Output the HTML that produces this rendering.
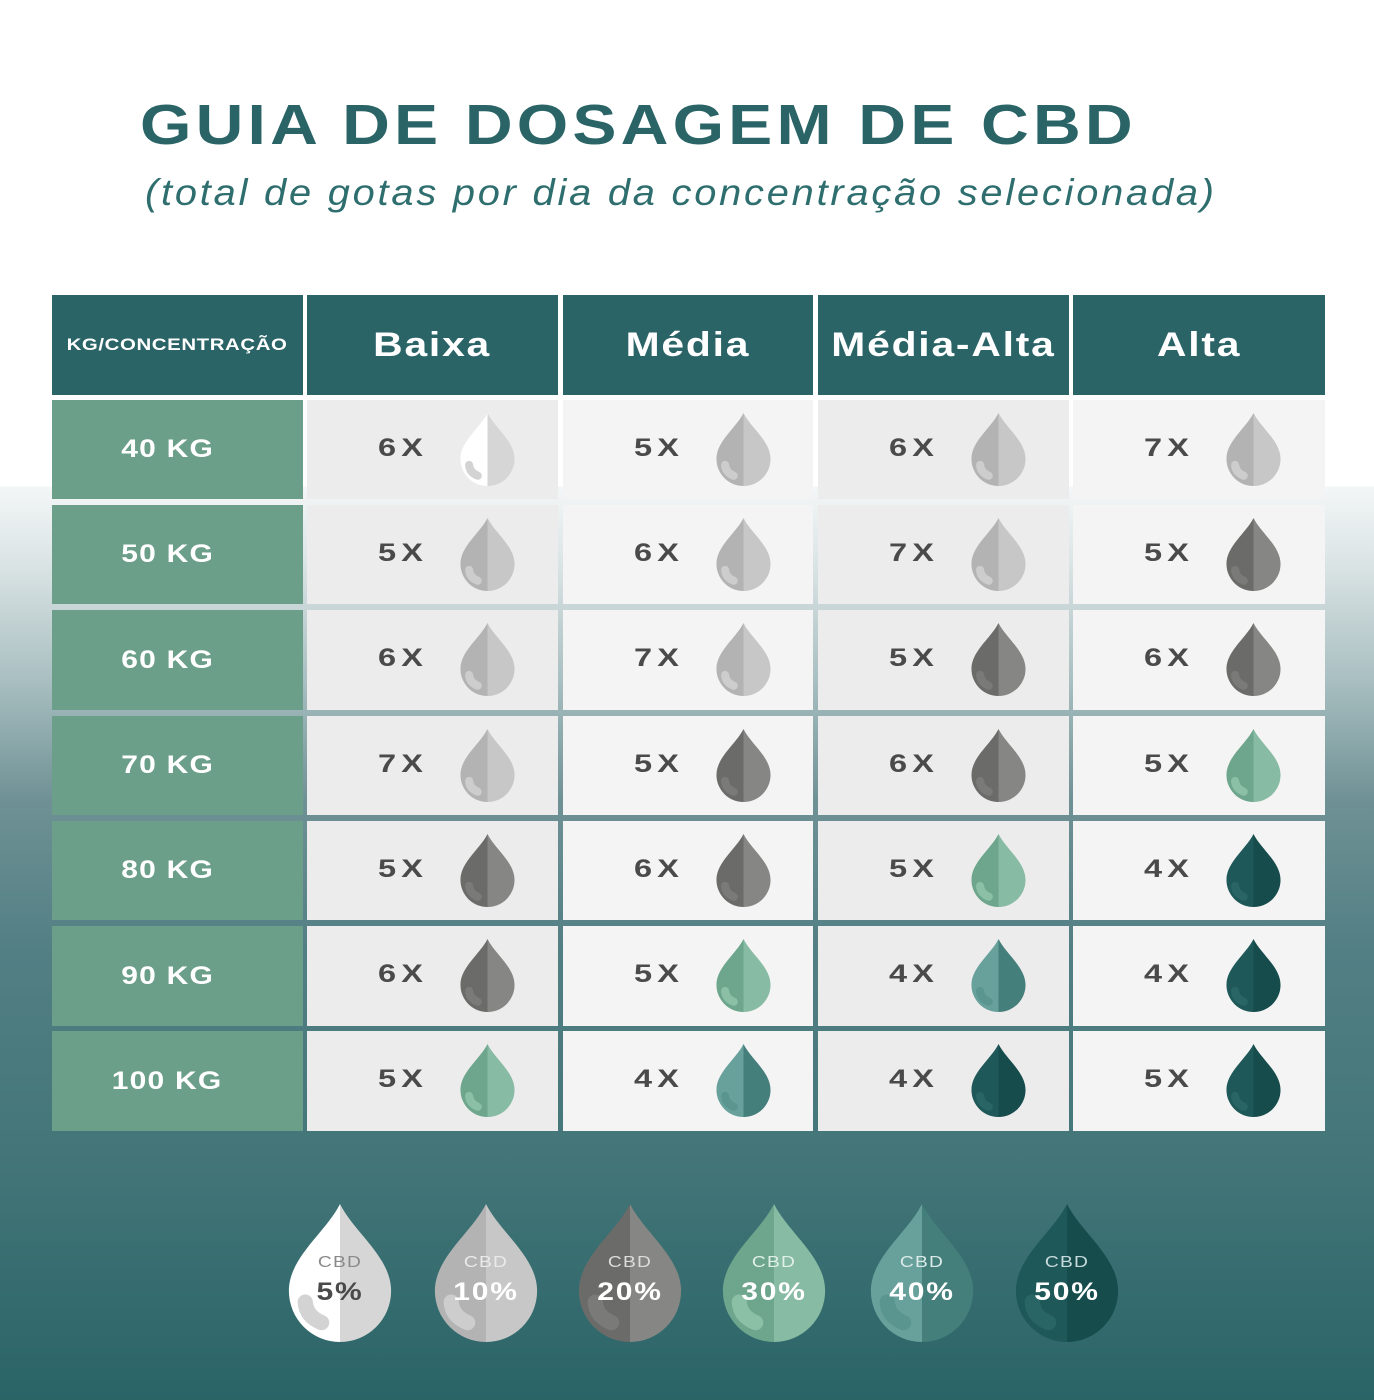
<!DOCTYPE html>
<html><head><meta charset="utf-8">
<style>
html,body{margin:0;padding:0}
body{width:1374px;height:1400px;position:relative;overflow:hidden;font-family:"Liberation Sans",sans-serif;
background:linear-gradient(to bottom,#fff 0,#fff 486px,#f3f6f6 487px,#dce5e6 560px,#a9bfc1 680px,#6f9195 800px,#527f84 950px,#447679 1150px,#2a6467 1400px);}
.title{position:absolute;left:140px;top:92px;font-size:57px;font-weight:bold;color:#2a6467;letter-spacing:3.6px;white-space:nowrap;transform:scaleX(1.16);transform-origin:0 0}
.sub{position:absolute;left:145px;top:172px;font-size:37px;font-style:italic;color:#2f6e6e;letter-spacing:2.6px;white-space:nowrap;transform:scaleX(1.075);transform-origin:0 0}
.c{position:absolute;box-sizing:border-box}
.h{background:#2a6467;color:#fff;font-weight:bold;font-size:34px;letter-spacing:1.5px;display:flex;align-items:center;justify-content:center}
.h span,.lab span{display:inline-block;transform:scaleX(1.2)}
.lab{background:#6c9f8a;color:#fff;font-weight:bold;font-size:25px;letter-spacing:1px;display:flex;align-items:center;justify-content:center;padding-right:20px}
.n{position:absolute;font-weight:bold;font-size:25px;color:#4a4a4a;letter-spacing:4px;top:34px;transform:scaleX(1.3);transform-origin:0 0}
.d{position:absolute}
.lg{position:absolute;top:1204px;width:104px;height:138px}
.lg .t1{position:absolute;top:50px;width:100%;text-align:center;font-size:16px;letter-spacing:1px;transform:scaleX(1.2)}
.lg .t2{position:absolute;top:74px;width:100%;text-align:center;font-size:25px;font-weight:bold;letter-spacing:1.5px;transform:scaleX(1.2)}
</style></head><body>
<div class="title">GUIA DE DOSAGEM DE CBD</div>
<div class="sub">(total de gotas por dia da concentração selecionada)</div>
<div id="t"></div>
<script>
var C={5:['#ffffff','#d6d6d6','#d3d3d3'],10:['#b3b3b3','#c7c7c7','#cdcdcd'],20:['#6b6b69','#868684','#7a7a78'],30:['#6da68c','#88bba3','#8bbfa6'],40:['#68a19c','#447f7b','#5a9590'],50:['#1e5859','#174c4d','#2a6566']};
function drop(p,w,h){var c=C[p];return '<svg width="'+w+'" height="'+h+'" viewBox="0 0 100 135"><path d="M50 0 C36 28 0 52 0 85 A50 50 0 0 0 50 135 L50 0Z" fill="'+c[0]+'"/><path d="M50 0 C64 28 100 52 100 85 A50 50 0 0 1 50 135 L50 0Z" fill="'+c[1]+'"/><path d="M16 96 Q17 110 32 116" stroke="'+c[2]+'" stroke-width="15" fill="none" stroke-linecap="round"/></svg>';}
var cols=[307,563,818,1073],cw=[251,250,251,252];
var rows=[400,505,610,716,821,926,1031],rh=[99,99,100,99,99,100,100];
var heads=['Baixa','Média','Média-Alta','Alta'];
var data=[
[[6,5],[5,10],[6,10],[7,10]],
[[5,10],[6,10],[7,10],[5,20]],
[[6,10],[7,10],[5,20],[6,20]],
[[7,10],[5,20],[6,20],[5,30]],
[[5,20],[6,20],[5,30],[4,50]],
[[6,20],[5,30],[4,40],[4,50]],
[[5,30],[4,40],[4,50],[5,50]]];
var labs=['40 KG','50 KG','60 KG','70 KG','80 KG','90 KG','100 KG'];
var s='<div class="c h" style="left:52px;top:295px;width:251px;height:100px;font-size:17px;letter-spacing:0.5px"><span>KG/CONCENTRAÇÃO</span></div>';
for(var j=0;j<4;j++)s+='<div class="c h" style="left:'+cols[j]+'px;top:295px;width:'+cw[j]+'px;height:100px"><span>'+heads[j]+'</span></div>';
for(var i=0;i<7;i++){
s+='<div class="c lab" style="left:52px;top:'+rows[i]+'px;width:251px;height:'+rh[i]+'px"><span>'+labs[i]+'</span></div>';
for(var j=0;j<4;j++){var bg=(j%2==0)?'#ececec':'#f4f4f4';
s+='<div class="c" style="left:'+cols[j]+'px;top:'+rows[i]+'px;width:'+cw[j]+'px;height:'+rh[i]+'px;background:'+bg+'"><div class="n" style="left:71px">'+data[i][j][0]+'X</div><div class="d" style="left:153px;top:13px">'+drop(data[i][j][1],55,73)+'</div></div>';}}
var lx=[288,434,578,722,870,1015],lp=[5,10,20,30,40,50];
var tc=[['#8a8a8a','#4a4a4a'],['#eaeaea','#fff'],['#dcdcdc','#fff'],['#e0efe8','#fff'],['#dcebe9','#fff'],['#c8dcdc','#fff']];
for(var k=0;k<6;k++)s+='<div class="lg" style="left:'+lx[k]+'px">'+drop(lp[k],104,138)+'<div class="t1" style="color:'+tc[k][0]+'">CBD</div><div class="t2" style="color:'+tc[k][1]+'">'+lp[k]+'%</div></div>';
document.getElementById('t').innerHTML=s;
</script>
</body></html>
